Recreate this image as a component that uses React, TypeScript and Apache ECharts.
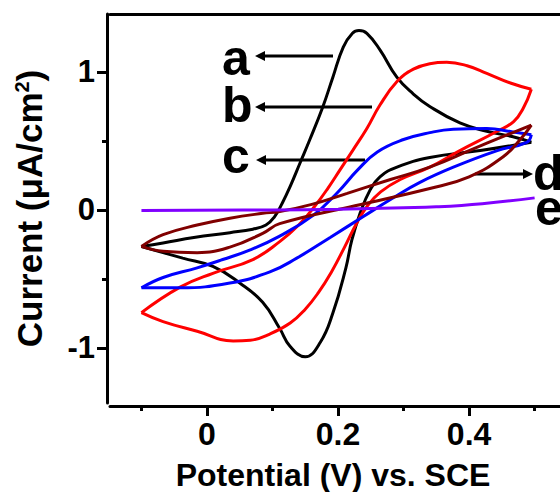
import React, { useEffect, useRef } from "react";
import * as echarts from "echarts";

// Axis ticks
const xTicks = [0, 0.2, 0.4];
const xMinorTicks = [-0.1, 0.1, 0.3, 0.5];
const yTicks = [-1, 0, 1];
const yMinorTicks = [-0.5, 0.5];

// Curve a (black)
const aForward = [
  [-0.1, -0.265], [-0.067, -0.24], [-0.02, -0.2], [0.035, -0.165], [0.07, -0.14],
  [0.09, -0.11], [0.103, -0.05], [0.115, 0.05], [0.127, 0.17], [0.142, 0.34],
  [0.157, 0.51], [0.177, 0.75], [0.192, 0.96], [0.208, 1.18], [0.222, 1.28],
  [0.232, 1.3], [0.244, 1.28], [0.264, 1.16], [0.29, 0.96], [0.315, 0.84],
  [0.34, 0.75], [0.386, 0.63], [0.427, 0.57], [0.467, 0.53], [0.495, 0.49],
];
const aReverse = [
  [0.495, 0.49], [0.417, 0.43], [0.34, 0.38], [0.29, 0.31], [0.264, 0.24],
  [0.249, 0.145], [0.234, -0.02], [0.221, -0.22], [0.212, -0.42], [0.192, -0.75],
  [0.173, -0.96], [0.15, -1.065], [0.127, -0.99], [0.111, -0.86], [0.085, -0.67],
  [0.05, -0.53], [0.009, -0.41], [-0.037, -0.35], [-0.067, -0.31], [-0.1, -0.265],
];

// Curve b (red)
const bForward = [
  [-0.1, -0.745], [-0.041, -0.56], [0.009, -0.46], [0.07, -0.36], [0.111, -0.23],
  [0.14, -0.11], [0.165, 0.03], [0.185, 0.16], [0.203, 0.29], [0.223, 0.435],
  [0.244, 0.59], [0.264, 0.76], [0.29, 0.93], [0.315, 1.02], [0.34, 1.06],
  [0.366, 1.07], [0.397, 1.045], [0.427, 0.99], [0.463, 0.92], [0.495, 0.875],
];
const bReverse = [
  [0.495, 0.875], [0.483, 0.74], [0.468, 0.64], [0.443, 0.57], [0.386, 0.43],
  [0.34, 0.31], [0.295, 0.22], [0.265, 0.13], [0.245, 0.03], [0.228, -0.1],
  [0.21, -0.27], [0.19, -0.45], [0.17, -0.6], [0.15, -0.72], [0.127, -0.82],
  [0.096, -0.9], [0.066, -0.945], [0.04, -0.95], [-0.015, -0.88], [-0.067, -0.81],
  [-0.1, -0.745],
];

// Curve c (blue)
const cForward = [
  [-0.1, -0.565], [-0.067, -0.49], [-0.015, -0.42], [0.024, -0.36], [0.066, -0.29],
  [0.111, -0.19], [0.162, -0.04], [0.2, 0.13], [0.23, 0.29], [0.26, 0.42],
  [0.3, 0.51], [0.34, 0.56], [0.376, 0.585], [0.427, 0.59], [0.467, 0.565],
  [0.495, 0.545],
];
const cReverse = [
  [0.495, 0.545], [0.488, 0.49], [0.443, 0.43], [0.376, 0.31], [0.325, 0.2],
  [0.285, 0.09], [0.238, -0.05], [0.188, -0.2], [0.137, -0.35], [0.096, -0.45],
  [0.035, -0.53], [-0.041, -0.565], [-0.1, -0.565],
];

// Curve d (dark red)
const dForward = [
  [-0.1, -0.265], [-0.067, -0.18], [-0.015, -0.11], [0.035, -0.06], [0.085, -0.025],
  [0.111, -0.012], [0.16, 0.04], [0.214, 0.12], [0.28, 0.22], [0.34, 0.31],
  [0.41, 0.45], [0.495, 0.615],
];
const dReverse = [
  [0.495, 0.615], [0.478, 0.51], [0.452, 0.385], [0.4, 0.24], [0.34, 0.155],
  [0.226, 0.03], [0.111, -0.1], [0.085, -0.17], [0.035, -0.27], [-0.015, -0.31],
  [-0.067, -0.3], [-0.1, -0.265],
];

// Curve e (violet)
const eLine = [
  [-0.1, -0.005], [0.1, 0.0], [0.2, 0.005], [0.3, 0.015], [0.35, 0.022],
  [0.42, 0.045], [0.5, 0.087],
];

const FONT = "Liberation Sans";
const X_MIN = -0.148;
const X_MAX = 0.554;
const Y_MIN = -1.4;
const Y_MAX = 1.42;

const lineSeries = (data: number[][], color: string) => ({
  type: "line",
  data,
  xAxisIndex: 0,
  yAxisIndex: 0,
  showSymbol: false,
  symbol: "none",
  smooth: 0.45,
  lineStyle: { color, width: 3 },
  silent: true,
});

const arrow = (x1: number, x2: number, y: number) => {
  const dir = x2 < x1 ? -1 : 1;
  return [
    { type: "line", shape: { x1, y1: y, x2: x2 - dir * 6, y2: y }, style: { stroke: "#000", lineWidth: 3 } },
    {
      type: "polygon",
      shape: { points: [[x2, y], [x2 - dir * 10, y - 5], [x2 - dir * 10, y + 5]] },
      style: { fill: "#000" },
    },
  ];
};

const label = (text: string, x: number, y: number) => ({
  type: "text",
  x,
  y,
  style: {
    text,
    fontSize: 50,
    fontWeight: "bold",
    fontFamily: FONT,
    fill: "#000",
    align: "left",
    verticalAlign: "middle",
  },
});

export default function App() {
  const ref = useRef<HTMLDivElement>(null);
  useEffect(() => {
    if (!ref.current) return;
    const chart = echarts.init(ref.current, null, { renderer: "svg" });
    const axisLine = { show: true, onZero: false, lineStyle: { color: "#000", width: 3 } };
    const hiddenLine = { show: false, onZero: false };
    const tickStyle = { color: "#000", width: 3 };
    const labelStyle = { fontSize: 31, fontWeight: "bold", color: "#000", fontFamily: FONT };
    const gridRect = { left: 110, top: 14, width: 460, height: 389, outerBoundsMode: "none", containLabel: false };
    const option: any = {
      animation: false,
      grid: [{ ...gridRect }, { ...gridRect }],
      xAxis: [
        {
          gridIndex: 0, type: "value", position: "bottom", min: X_MIN, max: X_MAX, offset: 3,
          axisLine,
          axisTick: { show: true, customValues: xTicks, length: 10, lineStyle: tickStyle },
          axisLabel: { ...labelStyle, fontSize: 32, customValues: xTicks, margin: 12, formatter: (v: number) => String(v) },
          splitLine: { show: false },
          name: "Potential (V) vs. SCE", nameLocation: "middle", nameGap: 53,
          nameTextStyle: { fontSize: 32, fontWeight: "bold", color: "#000", fontFamily: FONT, padding: [0, 14, 0, 0] },
        },
        {
          gridIndex: 0, type: "value", position: "top", min: X_MIN, max: X_MAX,
          axisLine, axisTick: { show: false }, axisLabel: { show: false }, splitLine: { show: false },
        },
        {
          gridIndex: 1, type: "value", position: "bottom", min: X_MIN, max: X_MAX, offset: 3,
          axisLine: hiddenLine,
          axisTick: { show: true, customValues: xMinorTicks, length: 5, lineStyle: tickStyle },
          axisLabel: { show: false }, splitLine: { show: false },
        },
      ],
      yAxis: [
        {
          gridIndex: 0, type: "value", position: "left", min: Y_MIN, max: Y_MAX, offset: 3,
          axisLine,
          axisTick: { show: true, customValues: yTicks, length: 10, lineStyle: tickStyle },
          axisLabel: { ...labelStyle, customValues: yTicks, margin: 12, formatter: (v: number) => String(v) },
          splitLine: { show: false },
          name: "Current (μA/cm{sup|2})", nameLocation: "middle", nameGap: 60, nameRotate: 90,
          nameTextStyle: {
            fontSize: 35, fontWeight: "bold", color: "#000", fontFamily: FONT,
            rich: { sup: { fontSize: 20, fontWeight: "bold", fontFamily: FONT, color: "#000", verticalAlign: "top", padding: [0, 0, 14, 0] } },
          },
        },
        {
          gridIndex: 1, type: "value", position: "left", min: Y_MIN, max: Y_MAX, offset: 3,
          axisLine: hiddenLine,
          axisTick: { show: true, customValues: yMinorTicks, length: 5, lineStyle: tickStyle },
          axisLabel: { show: false }, splitLine: { show: false },
        },
      ],
      series: [
        lineSeries(aForward, "#000000"),
        lineSeries(aReverse, "#000000"),
        lineSeries(bForward, "#ff0000"),
        lineSeries(bReverse, "#ff0000"),
        lineSeries(cForward, "#0000ff"),
        lineSeries(cReverse, "#0000ff"),
        lineSeries(dForward, "#800000"),
        lineSeries(dReverse, "#800000"),
        lineSeries(eLine, "#8000ff"),
      ],
      graphic: [
        label("a", 222, 58),
        label("b", 222, 105),
        label("c", 222, 156),
        label("d", 533, 173),
        label("e", 535, 208),
        ...arrow(333, 255, 56),
        ...arrow(372, 255, 107),
        ...arrow(365, 256, 160),
        ...arrow(475, 533, 174),
      ],
    };
    chart.setOption(option);
    return () => chart.dispose();
  }, []);
  return (
    <div style={{ position: "fixed", left: 0, top: 0, width: 560, height: 492, overflow: "hidden", background: "#fff" }}>
      <div ref={ref} style={{ width: 570, height: 492 }} />
    </div>
  );
}
